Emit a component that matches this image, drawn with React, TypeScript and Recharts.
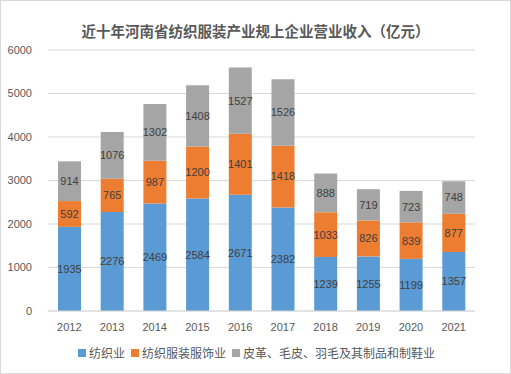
import React from "react";
import { BarChart, Bar, XAxis, YAxis, CartesianGrid, LabelList, Legend } from "recharts";

const years = ["2012", "2013", "2014", "2015", "2016", "2017", "2018", "2019", "2020", "2021"];
const textile = [1935, 2276, 2469, 2584, 2671, 2382, 1239, 1255, 1199, 1357];
const apparel = [592, 765, 987, 1200, 1401, 1418, 1033, 826, 839, 877];
const leather = [914, 1076, 1302, 1408, 1527, 1526, 888, 719, 723, 748];
const yTicks = [0, 1000, 2000, 3000, 4000, 5000, 6000];
const seriesNames = ["纺织业", "纺织服装服饰业", "皮革、毛皮、羽毛及其制品和制鞋业"];
const colors = ["#5B9BD5", "#ED7D31", "#A5A5A5"];

const data = years.map((y, i) => ({ year: y, textile: textile[i], apparel: apparel[i], leather: leather[i] }));

const numFont = "'Liberation Sans', Arial, sans-serif";
const cjkFont = "'Noto Sans CJK SC', sans-serif";

const LegendContent = () => (
  <div style={{ width: 511, height: 38, display: "flex", justifyContent: "center", alignItems: "flex-start", paddingTop: 9, paddingLeft: 2, boxSizing: "border-box", fontFamily: cjkFont, fontSize: 12, color: "#595959" }}>
    {seriesNames.map((n, i) => (
      <div key={n} style={{ display: "flex", alignItems: "center", marginRight: i < 2 ? 6 : 0 }}>
        <span style={{ display: "inline-block", width: 8, height: 8, background: colors[i], marginRight: 3 }} />
        <span style={{ lineHeight: "16px" }}>{n}</span>
      </div>
    ))}
  </div>
);

export default function App() {
  const keys = ["textile", "apparel", "leather"];
  return (
    <div style={{ position: "absolute", left: 0, top: 0, width: 511, height: 374, background: "#fff", boxSizing: "border-box", border: "1px solid #d9d9d9" }}>
      <div style={{ position: "absolute", left: 0, top: 20, width: 509, textAlign: "center", fontFamily: cjkFont, fontSize: 14.5, fontWeight: "bold", color: "#595959", lineHeight: "20px" }}>
        近十年河南省纺织服装产业规上企业营业收入（亿元）
      </div>
      <div style={{ position: "absolute", left: -1, top: -1 }}>
        <BarChart width={511} height={374} data={data} margin={{ top: 50, right: 36, left: 0, bottom: 0 }}>
          <CartesianGrid vertical={false} stroke="#d9d9d9" />
          <XAxis dataKey="year" height={25} axisLine={{ stroke: "#d9d9d9" }} tickLine={false} tick={{ fill: "#595959", fontSize: 11, fontFamily: numFont }} tickMargin={6} />
          <YAxis width={48} domain={[0, 6000]} ticks={yTicks} axisLine={false} tickLine={false} tick={{ fill: "#595959", fontSize: 11, fontFamily: numFont }} tickMargin={10} />
          <Legend verticalAlign="bottom" content={<LegendContent />} wrapperStyle={{ left: 0, width: 511 }} />
          {keys.map((k, i) => (
            <Bar key={k} dataKey={k} name={seriesNames[i]} stackId="a" fill={colors[i]} barSize={23} isAnimationActive={false}>
              <LabelList dataKey={k} position="center" fill="#404040" fontSize={11} fontFamily={numFont} />
            </Bar>
          ))}
        </BarChart>
      </div>
    </div>
  );
}
